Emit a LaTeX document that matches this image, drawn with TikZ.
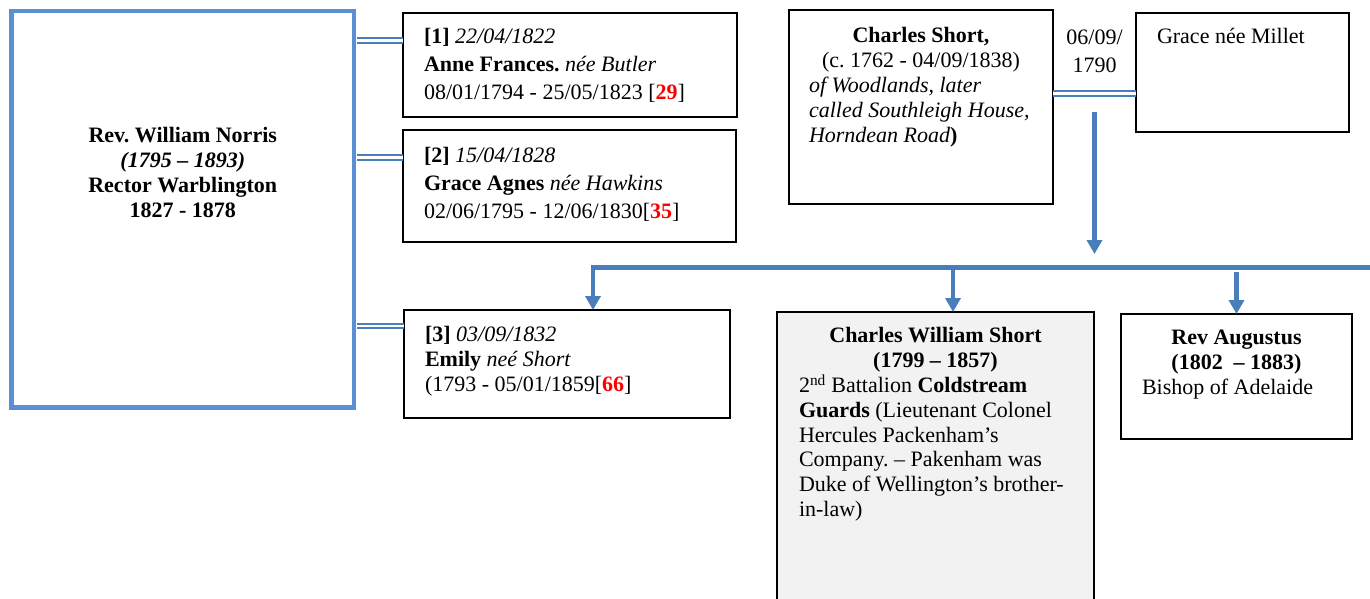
\documentclass[tikz,border=0pt]{standalone}
\usepackage{fontspec}
\setmainfont{Liberation Serif}
\usetikzlibrary{arrows.meta, calc, positioning}
\definecolor{kidblue}{HTML}{4A7EBB}
\definecolor{rectorblue}{HTML}{5A8FD5}
\definecolor{cardgray}{HTML}{F2F2F2}
\frenchspacing
\newcommand{\tightfont}{\fontsize{22}{24.8}\selectfont}
\newcommand{\loosefont}{\fontsize{22}{28.3}\selectfont}
\newcommand{\cardtext}[3]{\parbox[t][#2][t]{#1}{\raggedright\strut#3}}
\tikzstyle{person} = [draw, line width=1.8pt, anchor=north west, outer sep=0pt, font=\tightfont]
\tikzstyle{wed} = [draw=kidblue, line width=2pt, double=white, double distance=2.6pt]
\tikzstyle{kid} = [draw=kidblue, line width=4.5pt, ->]

\begin{document}
\begin{tikzpicture}[x=1pt, y=-1pt, >={Triangle[width=15pt, length=14pt]}]

  \useasboundingbox (0,0) rectangle (1370,599);

  \node[person, draw=rectorblue, line width=4.5pt, inner xsep=10pt, inner ysep=114.6pt] (norris) at (11.5,11)
    {\cardtext{322.5pt}{167.3pt}{\centering\textbf{Rev. William Norris}\\ \textbf{\textit{(1795 -- 1893)}}\\ \textbf{Rector Warblington}\\ \textbf{1827 - 1878}}};

  \node[person, font=\loosefont, inner xsep=21pt, inner ysep=10.2pt] (w1) at (403,13)
    {\cardtext{292pt}{83.6pt}{\textbf{[1]} \textit{22/04/1822}\\ \textbf{Anne Frances.} \textit{née Butler}\\ 08/01/1794 - 25/05/1823 [\textbf{\textcolor{red}{29}}]}};
  \node[person, font=\loosefont, inner xsep=21pt, inner ysep=12.2pt, below=13pt of w1.south west, anchor=north west] (w2)
    {\cardtext{291pt}{87.6pt}{\textbf{[2]} \textit{15/04/1828}\\ \textbf{Grace Agnes} \textit{née Hawkins}\\ 02/06/1795 - 12/06/1830[\textbf{\textcolor{red}{35}}]}};
  \node[person, inner xsep=21pt, inner ysep=14.6pt] (w3) at (404,310)
    {\cardtext{284pt}{78.8pt}{\textbf{[3]} \textit{03/09/1832}\\ \textbf{Emily} \textit{neé Short}\\ (1793 - 05/01/1859[\textbf{\textcolor{red}{66}}]}};

  \node[person, inner xsep=20pt, inner ysep=15.6pt] (cshort) at (789,10)
    {\cardtext{224pt}{162.8pt}{\centering\textbf{Charles Short,}\\ (c. 1762 - 04/09/1838)\par\raggedright\textit{of Woodlands, later}\\ \textit{called Southleigh House,}\\ \textit{Horndean Road}\textbf{)}}};
  \node[person, inner xsep=21pt, inner ysep=13.6pt, right=83pt of cshort.north east, anchor=north west, yshift=-3pt] (grace)
    {\cardtext{171pt}{91.8pt}{Grace née Millet}};

  \node[person, fill=cardgray, inner xsep=22pt, inner ysep=13.6pt] (cws) at (777,312)
    {\cardtext{273pt}{280.8pt}{\centering\textbf{Charles William Short}\\ \textbf{(1799 -- 1857)}\par\raggedright 2\textsuperscript{nd} Battalion \textbf{Coldstream}\\ \textbf{Guards} (Lieutenant Colonel\\ Hercules Packenham’s\\ Company. -- Pakenham was\\ Duke of Wellington’s brother-\\ in-law)}};
  \node[person, inner xsep=21pt, inner ysep=13.6pt, right=27pt of cws.north east, anchor=north west, yshift=-2pt] (aug)
    {\cardtext{189pt}{97.8pt}{\centering\textbf{Rev Augustus}\\ \textbf{(1802\ \ -- 1883)}\par\raggedright Bishop of Adelaide}};

  \coordinate (m1) at ($(w1.north west)+(0,27.8)$);
  \coordinate (m2) at ($(w2.north west)+(0,27.5)$);
  \coordinate (m3) at ($(w3.north west)+(0,16)$);
  \draw[wed, shorten <=2.5pt] (norris.east |- m1) -- (m1);
  \draw[wed, shorten <=2.5pt] (norris.east |- m2) -- (m2);
  \draw[wed, shorten <=2.5pt] (norris.east |- m3) -- (m3);

  \coordinate (m4) at ($(cshort.north east)+(0,83.7)$);
  \coordinate (mmid) at ($(m4)!0.5!(m4 -| grace.west)$);
  \draw[wed] (m4) -- (m4 -| grace.west);
  \node[font=\loosefont, anchor=north, inner sep=0pt] (mdate) at (mmid |- 0,24)
    {\cardtext{80pt}{60pt}{\centering 06/09/\\ 1790}};

  \coordinate (bar) at (1380,267.5);
  \coordinate (c3) at ([xshift=26pt]w3.north);
  \coordinate (c1) at ([xshift=17.5pt]cws.north);
  \draw[kid, shorten <=18pt, shorten >=13.5pt] (mmid) -- (mmid |- bar);
  \draw[kid] (bar) -- (c3 |- bar) -- (c3);
  \draw[kid] (c1 |- bar) -- (c1);
  \draw[kid, shorten <=4.5pt] (aug.north |- bar) -- (aug.north);

\end{tikzpicture}
\end{document}
